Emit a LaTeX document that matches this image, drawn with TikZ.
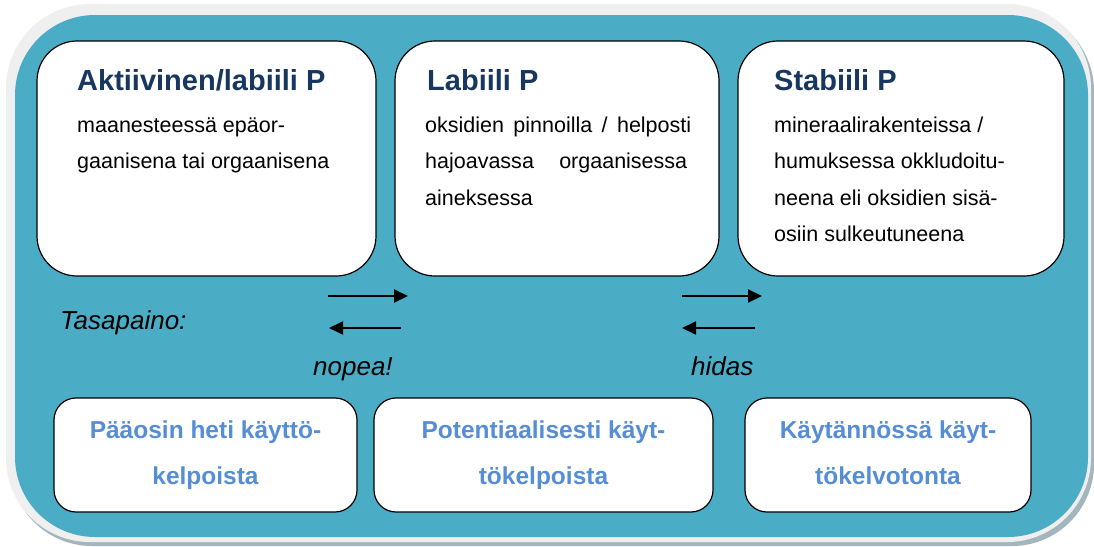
\documentclass[tikz,border=0pt]{standalone}
\usepackage{fontspec}
\setmainfont{Liberation Sans}
\usepackage{xcolor}
\usetikzlibrary{arrows.meta}
\definecolor{aqua}{HTML}{4BACC6}
\definecolor{navy}{HTML}{17375E}
\definecolor{softblue}{HTML}{558ED5}
\definecolor{framegray}{HTML}{EFEFEF}
\definecolor{shadegray}{HTML}{A3B6BE}
\tikzstyle{pool} = [rectangle, rounded corners=40pt, minimum height=235pt, draw=black, line width=1.2pt, fill=white]
\tikzstyle{usebox} = [rectangle, rounded corners=22pt, minimum height=114pt, draw=black, line width=1.2pt, fill=white]
\tikzstyle{title} = [anchor=base west, inner sep=0pt, text=navy, font=\fontsize{29}{34}\selectfont\bfseries]
\tikzstyle{body} = [anchor=base west, inner sep=0pt, align=left, font=\fontsize{21.5}{36.5}\selectfont]
\tikzstyle{usetext} = [anchor=base, inner sep=0pt, align=center, text=softblue, font=\fontsize{24.5}{46}\selectfont\bfseries]
\tikzstyle{note} = [anchor=base west, inner sep=0pt, font=\fontsize{26}{30}\selectfont\itshape]
\tikzstyle{arrow} = [line width=2pt, -{Triangle[length=14pt,width=13pt]}]

\begin{document}
\begin{tikzpicture}[x=1pt, y=-1pt]
   \useasboundingbox (0,0) rectangle (1094,546);
   % background panel
   \fill[shadegray, rounded corners=82pt] (10,9) rectangle (1094,546);
   \fill[framegray, rounded corners=84pt] (6,4) rectangle (1091,542);
   \fill[aqua, rounded corners=80pt] (15,15) rectangle (1088,537);
   % pools (base of a text node = its last line)
   \node (p1) [pool, minimum width=339pt] at (206.5,158.5) {};
   \node (p2) [pool, minimum width=324pt] at (557,158.5) {};
   \node (p3) [pool, minimum width=326pt] at (901,158.5) {};
   \node (t1) [title] at (77,90) {Aktiivinen/labiili P};
   \node (t2) [title] at (427,90) {Labiili P};
   \node (t3) [title] at (774,90) {Stabiili P};
   \node (d1) [body] at (77,168.5) {maanesteessä epäor-\\gaanisena tai orgaanisena};
   \node (d2) [body] at (425,205) {\makebox[266pt][s]{oksidien pinnoilla / helposti}\\\makebox[262pt][s]{hajoavassa orgaanisessa}\\aineksessa};
   \node (d3) [body] at (774,241.5) {mineraalirakenteissa /\\humuksessa okkludoitu-\\neena eli oksidien sisä-\\osiin sulkeutuneena};
   % equilibrium
   \node (eq) [note] at (60,329) {Tasapaino:};
   \node (fast) [note] at (313,375) {nopea!};
   \node (slow) [note] at (691,375) {hidas};
   \coordinate (a1) at (328,296);
   \coordinate (b1) at (408,296);
   \coordinate (a2) at (401,328);
   \coordinate (b2) at (329,328);
   \coordinate (a3) at (682,296);
   \coordinate (b3) at (762,296);
   \coordinate (a4) at (755,328);
   \coordinate (b4) at (682,328);
   \draw [arrow] (a1) -- (b1);
   \draw [arrow] (a2) -- (b2);
   \draw [arrow] (a3) -- (b3);
   \draw [arrow] (a4) -- (b4);
   % availability
   \node (u1) [usebox, minimum width=303pt] at (205.5,455) {};
   \node (u2) [usebox, minimum width=339pt] at (543.5,455) {};
   \node (u3) [usebox, minimum width=286pt] at (888,455) {};
   \node (l1) [usetext] at (205.5,484) {Pääosin heti käyttö-\\kelpoista};
   \node (l2) [usetext] at (543.5,484) {Potentiaalisesti käyt-\\tökelpoista};
   \node (l3) [usetext] at (888,484) {Käytännössä käyt-\\tökelvotonta};
\end{tikzpicture}
\end{document}
